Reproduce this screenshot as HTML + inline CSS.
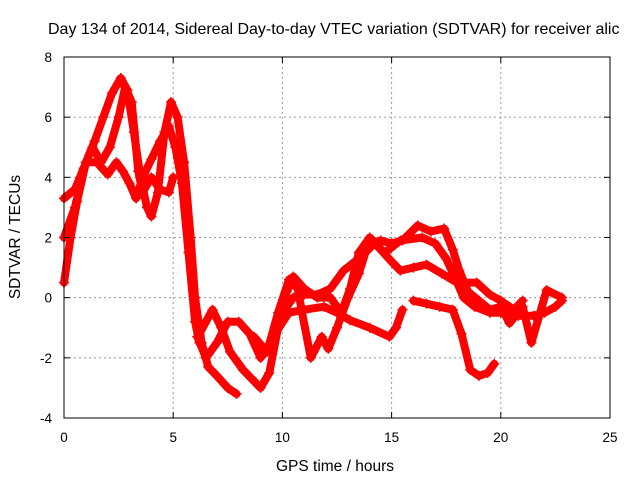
<!DOCTYPE html>
<html><head><meta charset="utf-8"><style>
body{margin:0;background:#fff}
svg{display:block;font-family:"Liberation Sans",Arial,sans-serif}
</style></head><body>
<svg id="chart" width="640" height="480">
<text x="48" y="34" font-size="16">Day 134 of 2014, Sidereal Day-to-day VTEC variation (SDTVAR) for receiver alic</text>
<g id="grid"></g>
<g id="series"></g>
<rect x="64" y="57" width="546" height="361" fill="none" stroke="#000" stroke-width="1"/>
<g id="ticks"></g>
<text x="335" y="471" font-size="15.5" text-anchor="middle">GPS time / hours</text>
<text transform="translate(20,237) rotate(-90)" font-size="15.5" text-anchor="middle">SDTVAR / TECUs</text>
</svg>
<script>
const xTicks=[0,5,10,15,20,25];
const yTicks=[-4,-2,0,2,4,6,8];
const s1=[[0,0.5],[0.3,2],[0.6,3.2],[1,4.5],[1.4,5.2],[1.8,6],[2.2,6.8],[2.6,7.3],[2.9,6.9],[3.2,5.5],[3.5,4],[3.8,3],[4,2.7],[4.3,3.5],[4.6,5.5],[4.9,6.5],[5.2,6],[5.5,4.5],[5.8,2],[6,0],[6.3,-1.5],[6.6,-2.3],[7,-2.6],[7.5,-3],[7.9,-3.2]];
const s2=[[0,3.3],[0.5,3.6],[0.9,4.3],[1.3,5],[1.7,4.5],[2.1,5],[2.5,6],[2.8,7],[3.1,6.5],[3.4,4.2],[3.6,3.5],[4,4],[4.4,3.6],[4.8,3.5],[5,4]];
const s3=[[0,2],[0.5,3],[1,4.5],[1.5,4.5],[2,4.1],[2.4,4.5],[2.7,4.2],[3,3.8],[3.3,3.3],[3.6,4],[4,4.6],[4.4,5.2],[4.8,5.7],[5.1,5],[5.4,3.8],[5.7,1.5],[6,-0.8],[6.2,-1.5]];
const s4=[[6.2,-1.2],[6.8,-0.4],[7.2,-1.0],[7.6,-1.8],[8.2,-2.4],[8.6,-2.7],[9,-3],[9.4,-2.5],[9.8,-1],[10.2,0.2],[10.5,0.7],[11,0.3],[11.6,0],[12.2,0],[12.7,-0.5],[13.1,0.3],[13.5,1.5],[14,2],[14.5,1.6],[15,1.2],[15.4,0.9],[16,1],[16.6,1.1],[17.3,0.8],[18,0.5],[18.9,0.5],[19.5,0.1],[20,-0.1],[20.6,-0.4],[21,-0.1]];
const s5=[[6.1,-1.3],[6.5,-2],[7,-1.5],[7.5,-0.8],[8,-0.8],[8.5,-1.2],[9,-2],[9.5,-1.5],[10,-0.5],[10.5,0],[11,0.1],[11.6,0.1],[12.2,0.3],[12.8,0.9],[13.5,1.3],[14,1.8],[14.5,1.9],[15,1.8],[15.5,1.9],[16.2,2.4],[16.8,2.2],[17.4,2.3],[17.8,1.6],[18.1,0.9],[18.5,0.2],[19,-0.1],[19.5,-0.4],[20,-0.3],[20.4,-0.85],[21,-0.3],[21.4,-1.5],[22.1,0.25],[22.8,0]];
const s6=[[8.7,-1.3],[9.3,-1.8],[9.8,-0.5],[10.3,0.6],[10.7,0.3],[10.9,-0.5],[11.3,-2],[11.8,-1.3],[12.1,-1.7],[12.5,-1],[13,0],[13.5,0.8],[13.8,1.5],[14.2,1.8],[14.7,1.5],[15.4,1.9],[16.4,2],[17,1.8],[17.5,1.3],[18,0.5],[18.3,0],[18.8,-0.3],[19.5,-0.5],[20,-0.5],[20.8,-0.6],[21.5,-0.6],[22,-0.5],[22.5,-0.3],[22.8,-0.1]];
const s7=[[9.75,-1.1],[10.3,-0.5],[11,-0.4],[11.9,-0.3],[12.5,-0.5],[13.1,-0.75],[14,-1],[14.9,-1.3],[15.2,-1],[15.5,-0.4]];
const s8=[[16,-0.1],[16.6,-0.2],[17.2,-0.3],[17.8,-0.4],[18.2,-1.2],[18.6,-2.4],[19,-2.6],[19.4,-2.5],[19.7,-2.2]];
const seriesList=[s1,s2,s3,s4,s5,s6,s7,s8];
const X0=64,X1=610,Y0=418,Y1=57;
function sx(t){return X0+(t-0)/(25-0)*(X1-X0);}
function sy(v){return Y0-(v+4)/(8+4)*(Y0-Y1);}
const NS="http://www.w3.org/2000/svg";
const grid=document.getElementById('grid'),ticks=document.getElementById('ticks'),ser=document.getElementById('series');
function mk(tag,attrs,parent){const e=document.createElementNS(NS,tag);for(const k in attrs)e.setAttribute(k,attrs[k]);parent.appendChild(e);return e;}
xTicks.forEach(t=>{const x=sx(t);
 if(t>0&&t<25){const g=mk('line',{x1:x,x2:x,y1:Y1,y2:Y0,stroke:'#999','stroke-dasharray':'2,3'},grid);
 
 }
 const a=mk('line',{x1:x,x2:x,y1:Y0,y2:Y0-6,stroke:'#000'},ticks);
 
 
 const b=mk('line',{x1:x,x2:x,y1:Y1,y2:Y1+6,stroke:'#000'},ticks);
 
 
 const l=mk('text',{x:x,y:442,'font-size':13.5,'text-anchor':'middle'},ticks);l.textContent=t;
 
 });
yTicks.forEach(v=>{const y=sy(v);
 if(v>-4&&v<8){const g=mk('line',{x1:X0,x2:X1,y1:y,y2:y,stroke:'#999','stroke-dasharray':'2,3'},grid);
 
 }
 const a=mk('line',{x1:X0,x2:X0+6,y1:y,y2:y,stroke:'#000'},ticks);
 
 
 const b=mk('line',{x1:X1,x2:X1-6,y1:y,y2:y,stroke:'#000'},ticks);
 
 
 const l=mk('text',{x:52,y:y+5,'font-size':13.5,'text-anchor':'end'},ticks);l.textContent=v;
 
 });
seriesList.forEach((s,i)=>{
 const pl=mk('polyline',{points:s.map(p=>sx(p[0])+','+sy(p[1])).join(' '),fill:'none',stroke:'#f00','stroke-width':8,'stroke-linejoin':'round','stroke-linecap':'round'},ser);
 
 
 s.forEach(p=>{const x=sx(p[0]),y=sy(p[1]);
  const m=mk('path',{d:`M${x-5},${y}H${x+5}M${x},${y-5}V${y+5}`,stroke:'#f00','stroke-width':1.5},ser);
  
  });
});
</script>
</body></html>
